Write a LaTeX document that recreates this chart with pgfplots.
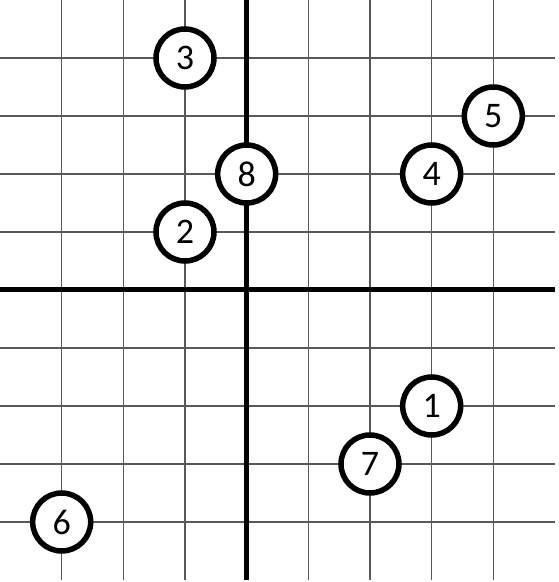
\documentclass[border=0pt]{standalone}
\usepackage{fontspec}
\setmainfont{Carlito}
\usepackage{pgfplots}
\pgfplotsset{compat=1.18}
\begin{document}
\begin{tikzpicture}
\begin{axis}[
  scale only axis,
  width=555pt, height=580pt,
  xmin=-4, xmax=5, ymin=-5, ymax=5,
  xtick={-3,...,4}, ytick={-4,...,4},
  xticklabels={}, yticklabels={},
  grid=major,
  major grid style={line width=1.3pt, draw=black!65},
  axis line style={draw=none},
  tick style={draw=none},
  clip=false,
]
\addplot[black, line width=5pt] coordinates {(0,-5) (0,5)};
\addplot[black, line width=5pt] coordinates {(-4,0) (5,0)};
\addplot[
  only marks, mark=*, mark size=29pt,
  mark options={fill=white, draw=black, line width=5.5pt},
  point meta=explicit symbolic,
  nodes near coords,
  nodes near coords style={anchor=center, font=\fontsize{36}{36}\selectfont, text=black},
] table[meta=label] {
x y label
3 -2 1
-1 1 2
-1 4 3
3 2 4
4 3 5
-3 -4 6
2 -3 7
0 2 8
};
\end{axis}
\pgfresetboundingbox
\path (current axis.south west) ++(0,-2pt) rectangle ([xshift=4pt]current axis.north east);
\end{tikzpicture}
\end{document}
